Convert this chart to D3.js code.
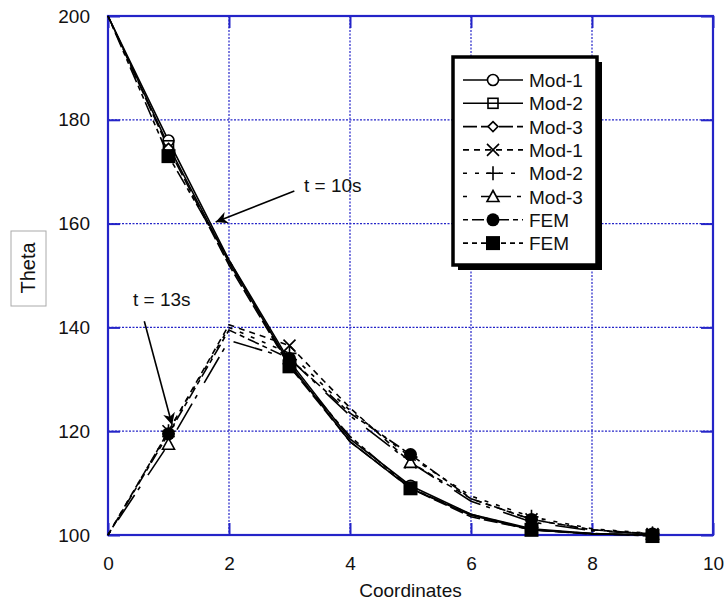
<!DOCTYPE html>
<html>
<head>
<meta charset="utf-8">
<script src="https://cdn.jsdelivr.net/npm/d3@7"></script>
<style>
  body { margin: 0; background: #fff; }
  svg { display: block; font-family: "Liberation Sans", Arial, sans-serif; }
</style>
</head>
<body>
<svg id="chart" width="728" height="607"></svg>
<script>
// data
const xs = [0, 1, 2, 3, 4, 5, 6, 7, 8, 9]

// t = 10s
const mod1_10 = [200, 176, 153, 133.5, 118.5, 109.5, 104, 101.2, 100.3, 100]
const mod2_10 = [200, 175, 152.5, 133, 118, 109, 103.8, 101, 100.2, 100]
const mod3_10 = [200, 174.5, 152, 132.5, 118, 109, 103.5, 101, 100.2, 100]
const fem_10 = [200, 173, 153, 132.5, 119, 109, 104, 101, 100.3, 99.8]

// t = 13s
const mod1_13 = [100, 120, 140.5, 136.5, 124.5, 114, 107, 103, 101, 100.2]
const mod2_13 = [100, 120, 140, 135, 124, 115, 107.5, 103.5, 101.2, 100.3]
const mod3_13 = [100, 117.5, 137.5, 134, 123, 114, 106.5, 102.5, 100.8, 100.2]
const fem_13 = [100, 119.5, 139.5, 134, 123.5, 115.5, 107, 103, 101, 100.2]

const xTicks = [0, 2, 4, 6, 8, 10]
const yTicks = [100, 120, 140, 160, 180, 200]

const series = [
  { name: 'Mod-1', values: mod1_10, dash: null, mark: 'circle' },
  { name: 'Mod-2', values: mod2_10, dash: null, mark: 'square' },
  { name: 'Mod-3', values: mod3_10, dash: '14,4', mark: 'diamond' },
  { name: 'Mod-1', values: mod1_13, dash: '6,5', mark: 'x' },
  { name: 'Mod-2', values: mod2_13, dash: '4,8', mark: 'plus' },
  { name: 'Mod-3', values: mod3_13, dash: '4,14,30,6', mark: 'triangle' },
  { name: 'FEM', values: fem_13, dash: '5,4,12,4', mark: 'dot' },
  { name: 'FEM', values: fem_10, dash: '5,4,5,4,16,4', mark: 'block' },
]

const notes = [
  { text: 't = 10s', tx: 304, ty: 192, from: [3.08, 166.3], to: [1.78, 160.3] },
  { text: 't = 13s', tx: 133, ty: 306, from: [0.6, 141.2], to: [1.06, 121.2] },
]

const blue = '#2424c8'
const svg = d3.select('#chart')
const x = d3.scaleLinear().domain([0, 10]).range([108, 713])
const y = d3.scaleLinear().domain([100, 200]).range([535, 16])

// grid
const grid = svg.append('g').attr('stroke', blue).attr('stroke-width', 1.2)
  .attr('stroke-dasharray', '2,1.5')
grid.selectAll('.gx').data(xTicks.slice(1, -1)).enter().append('line')
  .attr('x1', d => x(d)).attr('x2', d => x(d)).attr('y1', y(200)).attr('y2', y(100))
grid.selectAll('.gy').data(yTicks.slice(1, -1)).enter().append('line')
  .attr('y1', d => y(d)).attr('y2', d => y(d)).attr('x1', x(0)).attr('x2', x(10))

// axes
function styleAxis(g) {
  g.select('.domain').remove()
  g.selectAll('.tick line').attr('stroke', blue).attr('stroke-width', 2)
  g.selectAll('.tick text').attr('fill', '#111').style('font-size', '19px')
}
svg.append('g').attr('transform', `translate(0,${y(100)})`)
  .call(d3.axisBottom(x).tickValues(xTicks).tickSizeInner(-12).tickSizeOuter(0).tickPadding(22))
  .call(styleAxis)
svg.append('g').attr('transform', `translate(${x(0)},0)`)
  .call(d3.axisLeft(y).tickValues(yTicks).tickSizeInner(-12).tickSizeOuter(0).tickPadding(18))
  .call(styleAxis)
svg.append('g').attr('transform', `translate(${x(10)},0)`)
  .call(d3.axisRight(y).tickValues(yTicks).tickSizeInner(-12).tickSizeOuter(0).tickFormat(''))
  .call(styleAxis)
svg.append('g').attr('transform', `translate(0,${y(200)})`)
  .call(d3.axisTop(x).tickValues(xTicks).tickSizeInner(-12).tickSizeOuter(0).tickFormat(''))
  .call(styleAxis)

svg.append('rect')
  .attr('x', x(0)).attr('y', y(200))
  .attr('width', x(10) - x(0)).attr('height', y(100) - y(200))
  .attr('fill', 'none').attr('stroke', blue).attr('stroke-width', 2.2)

// axis titles
svg.append('text').attr('x', x(5)).attr('y', 597).attr('text-anchor', 'middle')
  .style('font-size', '19px').attr('fill', '#111').text('Coordinates')
svg.append('rect').attr('x', 11).attr('y', 231).attr('width', 35).attr('height', 75)
  .attr('fill', 'none').attr('stroke', '#aaa').attr('stroke-width', 1)
svg.append('text').attr('transform', 'translate(35,268) rotate(-90)').attr('text-anchor', 'middle')
  .style('font-size', '20px').attr('fill', '#111').text('Theta')

// markers
function drawMark(g, type, cx, cy) {
  const s = 1.6
  if (type === 'circle') {
    g.append('circle').attr('cx', cx).attr('cy', cy).attr('r', 5.5)
      .attr('fill', '#fff').attr('stroke', '#000').attr('stroke-width', s)
  } else if (type === 'square') {
    g.append('rect').attr('x', cx - 5).attr('y', cy - 5).attr('width', 10).attr('height', 10)
      .attr('fill', 'none').attr('stroke', '#000').attr('stroke-width', s)
  } else if (type === 'diamond') {
    g.append('path').attr('d', `M${cx},${cy - 5}L${cx + 5},${cy}L${cx},${cy + 5}L${cx - 5},${cy}Z`)
      .attr('fill', '#fff').attr('stroke', '#000').attr('stroke-width', s)
  } else if (type === 'x') {
    g.append('path').attr('d', `M${cx - 6},${cy - 6}L${cx + 6},${cy + 6}M${cx - 6},${cy + 6}L${cx + 6},${cy - 6}`)
      .attr('stroke', '#000').attr('stroke-width', s)
  } else if (type === 'plus') {
    g.append('path').attr('d', `M${cx - 7},${cy}L${cx + 7},${cy}M${cx},${cy - 7}L${cx},${cy + 7}`)
      .attr('stroke', '#000').attr('stroke-width', s)
  } else if (type === 'triangle') {
    g.append('path').attr('d', `M${cx},${cy - 6}L${cx + 6},${cy + 5}L${cx - 6},${cy + 5}Z`)
      .attr('fill', '#fff').attr('stroke', '#000').attr('stroke-width', s)
  } else if (type === 'dot') {
    g.append('circle').attr('cx', cx).attr('cy', cy).attr('r', 6.5).attr('fill', '#000')
  } else if (type === 'block') {
    g.append('rect').attr('x', cx - 7).attr('y', cy - 7).attr('width', 14).attr('height', 14)
      .attr('fill', '#000')
  }
}

const line = d3.line().x((d, i) => x(xs[i])).y(d => y(d))
const plot = svg.append('g')
series.forEach(s => {
  plot.append('path').attr('d', line(s.values))
    .attr('fill', 'none').attr('stroke', '#000').attr('stroke-width', 1.6)
    .attr('stroke-dasharray', s.dash)
})
series.forEach(s => {
  const g = plot.append('g')
  s.values.forEach((v, i) => {
    if (i % 2 === 1) drawMark(g, s.mark, x(xs[i]), y(v))
  })
})

// annotations
svg.append('defs').append('marker').attr('id', 'head')
  .attr('viewBox', '0 0 10 10').attr('refX', 10).attr('refY', 5)
  .attr('markerWidth', 12).attr('markerHeight', 12).attr('markerUnits', 'userSpaceOnUse')
  .attr('orient', 'auto')
  .append('path').attr('d', 'M0,0L10,5L0,10L3,5Z').attr('fill', '#000')
notes.forEach(n => {
  svg.append('line')
    .attr('x1', x(n.from[0])).attr('y1', y(n.from[1]))
    .attr('x2', x(n.to[0])).attr('y2', y(n.to[1]))
    .attr('stroke', '#000').attr('stroke-width', 1.6).attr('marker-end', 'url(#head)')
  svg.append('text').attr('x', n.tx).attr('y', n.ty).style('font-size', '19px')
    .attr('fill', '#111').text(n.text)
})

// legend
const lg = svg.append('g').attr('transform', 'translate(453,57)')
lg.append('rect').attr('x', 5).attr('y', 5).attr('width', 144).attr('height', 208).attr('fill', '#000')
lg.append('rect').attr('x', 0).attr('y', 0).attr('width', 144).attr('height', 208)
  .attr('fill', '#fff').attr('stroke', '#000').attr('stroke-width', 3.5)
series.forEach((s, i) => {
  const cy = 23 + i * 23.3
  lg.append('line').attr('x1', 10).attr('x2', 70).attr('y1', cy).attr('y2', cy)
    .attr('stroke', '#000').attr('stroke-width', 1.6).attr('stroke-dasharray', s.dash)
  drawMark(lg, s.mark, 40, cy)
  lg.append('text').attr('x', 76).attr('y', cy + 7).style('font-size', '19px')
    .attr('fill', '#111').text(s.name)
})
</script>
</body>
</html>
